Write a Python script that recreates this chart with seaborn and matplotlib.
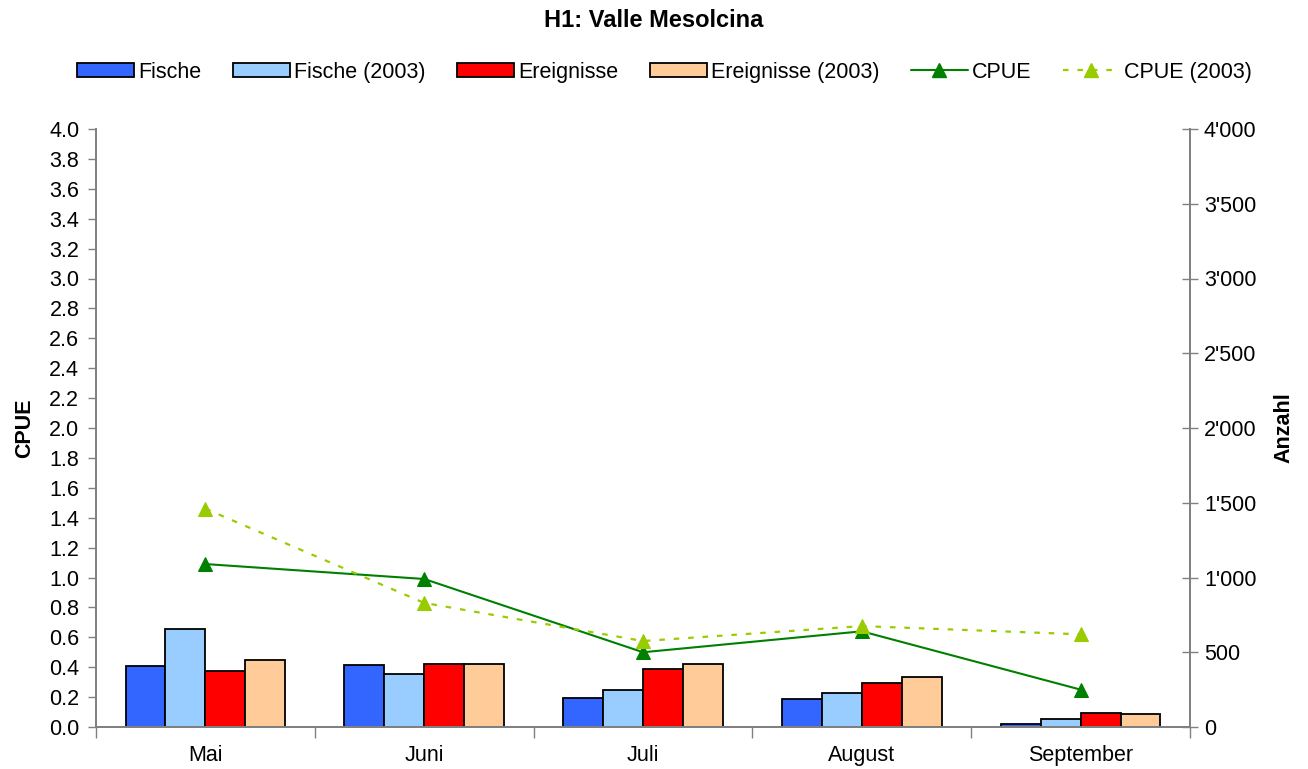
import numpy as np
import pandas as pd
import matplotlib
matplotlib.use("Agg")
import matplotlib.pyplot as plt
import matplotlib.ticker as mticker
from matplotlib.patches import Patch
from matplotlib.lines import Line2D
import seaborn as sns

# data
months = ["Mai", "Juni", "Juli", "August", "September"]
fische = [408, 417, 197, 185, 20]
fische_2003 = [656, 352, 245, 227, 56]
ereignisse = [375, 421, 390, 292, 96]
ereignisse_2003 = [446, 421, 424, 335, 90]
cpue = [1.09, 0.99, 0.50, 0.64, 0.25]
cpue_2003 = [1.46, 0.83, 0.575, 0.675, 0.62]

bar_series = ["Fische", "Fische (2003)", "Ereignisse", "Ereignisse (2003)"]
bar_colors = ["#3366FF", "#99CCFF", "#FF0000", "#FFCC99"]
green = "#008000"
light_green = "#99CC00"

sns.set_theme(style="ticks")
plt.rcParams["font.family"] = ["Liberation Sans", "DejaVu Sans"]
plt.rcParams["text.color"] = "black"
plt.rcParams["axes.labelcolor"] = "black"
fs = 15.5

df = pd.DataFrame({
    "Monat": months * 4,
    "Anzahl": fische + fische_2003 + ereignisse + ereignisse_2003,
    "Serie": np.repeat(bar_series, len(months)),
})

fig = plt.figure(figsize=(13.08, 7.69), dpi=100)
ax = fig.add_axes([96 / 1308, 1 - 727 / 769, (1190 - 96) / 1308, (727 - 129) / 769])
ax2 = ax.twinx()

# bars on right axis
sns.barplot(data=df, x="Monat", y="Anzahl", hue="Serie", palette=bar_colors,
            order=months, hue_order=bar_series, width=0.73, gap=0,
            edgecolor="black", linewidth=1.3, saturation=1, ax=ax2, legend=False)

# CPUE lines on left axis, drawn on top
pos = np.arange(len(months))
sns.lineplot(x=pos, y=cpue, ax=ax, color=green, linewidth=1.5, marker="^",
             markersize=10, markeredgecolor=green)
sns.lineplot(x=pos, y=cpue_2003, ax=ax, color=light_green, linewidth=1.6,
             linestyle=(0, (2.5, 4)), marker="^", markersize=10,
             markeredgecolor=light_green)
ax.set_zorder(ax2.get_zorder() + 1)
ax.patch.set_visible(False)

ax.set_ylim(0, 4.0)
ax2.set_ylim(0, 4000)
ax.set_xlim(-0.5, len(months) - 0.5)

ax.set_yticks(np.arange(0, 4.01, 0.2))
ax.yaxis.set_major_formatter(mticker.FormatStrFormatter("%.1f"))
ax2.set_yticks(np.arange(0, 4001, 500))
ax2.yaxis.set_major_formatter(
    mticker.FuncFormatter(lambda v, p: f"{int(v):,}".replace(",", "'")))

# x ticks at category boundaries, labels at centers
ax.set_xticks(np.arange(-0.5, len(months), 1.0))
ax.set_xticklabels([])
ax.set_xticks(pos, minor=True)
ax.set_xticklabels(months, minor=True)
ax.tick_params(axis="x", which="major", direction="out", length=8, width=1, color="#808080")
ax.tick_params(axis="x", which="minor", length=0, labelsize=fs, pad=13, labelcolor="black")
ax.tick_params(axis="y", direction="out", length=6, width=1, color="#808080",
               labelsize=fs, pad=6, labelcolor="black")
ax2.tick_params(axis="y", direction="inout", length=12, width=1, color="#808080",
                labelsize=fs, pad=4, labelcolor="black")
ax.set_xlabel("")
ax2.set_xlabel("")

for a in (ax, ax2):
    a.spines["top"].set_visible(False)
    for s in ("left", "right", "bottom"):
        a.spines[s].set_color("#808080")
        a.spines[s].set_linewidth(1.3)

ax.set_ylabel("CPUE", fontsize=fs, fontweight="bold", labelpad=10)
ax2.set_ylabel("Anzahl", fontsize=fs, fontweight="bold", labelpad=12)

fig.suptitle("H1: Valle Mesolcina", fontsize=17, fontweight="bold", y=0.988)

handles = [Patch(facecolor=c, edgecolor="black", linewidth=1.3) for c in bar_colors]
handles += [
    Line2D([], [], color=green, linewidth=1.5, marker="^", markersize=10),
    Line2D([], [], color=light_green, linewidth=1.6, linestyle=(0, (2.5, 4)),
           marker="^", markersize=10),
]
labels = bar_series + ["CPUE", "CPUE (2003)"]
fig.legend(handles, labels, loc="center", bbox_to_anchor=(0.508, 0.906), ncol=6,
           frameon=False, fontsize=fs, handlelength=2.65, handleheight=0.65,
           handletextpad=0.2, columnspacing=1.45)

fig.savefig("out.png", dpi=100)
